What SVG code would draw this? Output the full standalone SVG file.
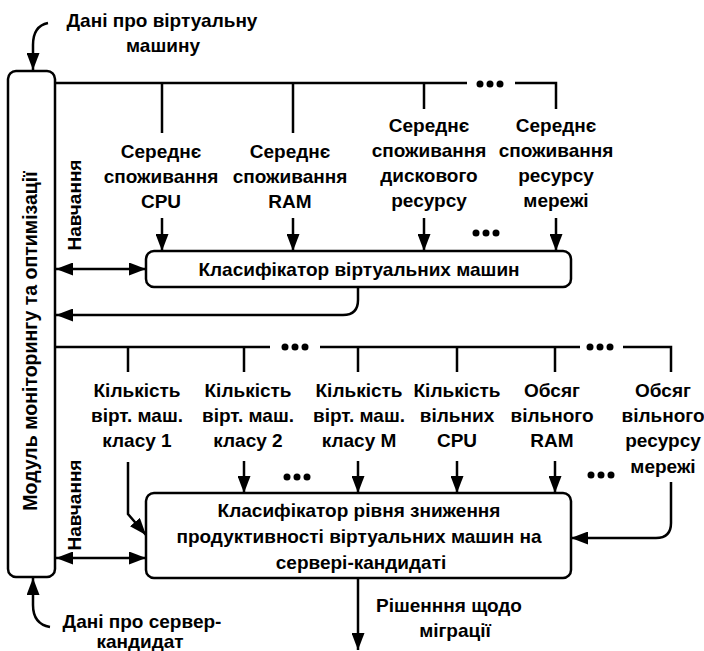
<svg xmlns="http://www.w3.org/2000/svg" width="704" height="651" viewBox="0 0 704 651">
<style>
text{font-family:"Liberation Sans",Arial,sans-serif;font-weight:bold;font-size:19px;fill:#000;text-anchor:middle}
.box{fill:#fff;stroke:#000;stroke-width:2.5}
.ln{fill:none;stroke:#000;stroke-width:2.5}
.ar{marker-end:url(#ah)}
.dar{marker-start:url(#ah);marker-end:url(#ah)}
.dot{fill:#000}
.sm{font-size:19px}
</style>
<defs>
<marker id="ah" viewBox="0 0 17 13" refX="17" refY="6.5" markerWidth="17" markerHeight="13" markerUnits="userSpaceOnUse" orient="auto-start-reverse">
<path d="M0,0 L17,6.5 L0,13 z" fill="#000"/>
</marker>
</defs>
<rect width="704" height="651" fill="#fff"/>

<g id="connectors">
<path class="ln ar" d="M48,23 Q33,26 33,45 V70"/>
<path class="ln ar" d="M50,627 Q33,624 33,605 V578"/>
<path class="ln" d="M55,83 H467 M515,83 H556 V109 M162,83 V133 M293,83 V133 M424,83 V109"/>
<circle class="dot" cx="480" cy="84" r="3.5"/><circle class="dot" cx="490" cy="84" r="3.5"/><circle class="dot" cx="500" cy="84" r="3.5"/>
<path class="ln ar" d="M162,218 V251"/>
<path class="ln ar" d="M293,218 V251"/>
<path class="ln ar" d="M424,218 V251"/>
<path class="ln ar" d="M556,218 V251"/>
<circle class="dot" cx="476" cy="233" r="3.5"/><circle class="dot" cx="486" cy="233" r="3.5"/><circle class="dot" cx="496" cy="233" r="3.5"/>
<path class="ln dar" d="M56,269 H146"/>
<path class="ln ar" d="M358,287 V300 Q358,315 343,315 H56"/>
<path class="ln" d="M55,347 H270 M320,347 H580 M623,347 H671 V372 M128,347 V372 M244,347 V372 M358,347 V372 M457,347 V372 M555,347 V372"/>
<circle class="dot" cx="285" cy="347" r="3.5"/><circle class="dot" cx="295" cy="347" r="3.5"/><circle class="dot" cx="305" cy="347" r="3.5"/>
<circle class="dot" cx="590" cy="347" r="3.5"/><circle class="dot" cx="600" cy="347" r="3.5"/><circle class="dot" cx="610" cy="347" r="3.5"/>
<path class="ln ar" d="M128,462 V514 L146,535"/>
<path class="ln ar" d="M244,461 V493"/>
<path class="ln ar" d="M358,461 V493"/>
<path class="ln ar" d="M457,461 V493"/>
<path class="ln ar" d="M555,461 V493"/>
<circle class="dot" cx="287" cy="477" r="3.5"/><circle class="dot" cx="297" cy="477" r="3.5"/><circle class="dot" cx="307" cy="477" r="3.5"/>
<circle class="dot" cx="591" cy="475" r="3.5"/><circle class="dot" cx="601" cy="475" r="3.5"/><circle class="dot" cx="611" cy="475" r="3.5"/>
<path class="ln ar" d="M671,482 V523 Q671,538 656,538 H571"/>
<path class="ln dar" d="M56,558 H146"/>
<path class="ln ar" d="M358,578 V650"/>
</g>

<g id="module">
<rect class="box" x="8" y="71" width="47" height="506" rx="8"/>
<text transform="translate(37,341) rotate(-90)" style="font-size:19.5px">Модуль моніторингу та оптимізації</text>
</g>

<g id="label-vm-data">
<text x="162" y="27">Дані про віртуальну</text>
<text x="163" y="52">машину</text>
</g>
<g id="label-server-data">
<text x="142" y="628">Дані про сервер-</text>
<text x="140" y="648">кандидат</text>
</g>
<g id="label-learn1"><text class="sm" transform="translate(81,205) rotate(-90)">Навчання</text></g>
<g id="label-learn2"><text class="sm" transform="translate(81,505) rotate(-90)">Навчання</text></g>

<g id="in-cpu"><text x="161" y="158">Середнє</text><text x="161" y="183">споживання</text><text x="161" y="208">CPU</text></g>
<g id="in-ram"><text x="290" y="158">Середнє</text><text x="290" y="183">споживання</text><text x="290" y="208">RAM</text></g>
<g id="in-disk"><text x="429" y="132">Середнє</text><text x="429" y="157">споживання</text><text x="429" y="182">дискового</text><text x="429" y="207">ресурсу</text></g>
<g id="in-net"><text x="556" y="132">Середнє</text><text x="556" y="157">споживання</text><text x="556" y="182">ресурсу</text><text x="556" y="207">мережі</text></g>

<g id="classifier1">
<rect class="box" x="146" y="251" width="425" height="36" rx="8"/>
<text x="359" y="276">Класифікатор віртуальних машин</text>
</g>

<g id="in-c1"><text x="137" y="397">Кількість</text><text x="137" y="422">вірт. маш.</text><text x="137" y="447">класу 1</text></g>
<g id="in-c2"><text x="248" y="397">Кількість</text><text x="248" y="422">вірт. маш.</text><text x="248" y="447">класу 2</text></g>
<g id="in-cm"><text x="359" y="397">Кількість</text><text x="359" y="422">вірт. маш.</text><text x="359" y="447">класу M</text></g>
<g id="in-fcpu"><text x="457" y="397">Кількість</text><text x="457" y="422">вільних</text><text x="457" y="447">CPU</text></g>
<g id="in-fram"><text x="552" y="397">Обсяг</text><text x="552" y="422">вільного</text><text x="552" y="447">RAM</text></g>
<g id="in-fnet"><text x="663" y="397">Обсяг</text><text x="663" y="422">вільного</text><text x="663" y="447">ресурсу</text><text x="663" y="473">мережі</text></g>

<g id="classifier2">
<rect class="box" x="146" y="493" width="425" height="85" rx="8"/>
<text x="359" y="517">Класифікатор рівня зниження</text>
<text x="359" y="543">продуктивності віртуальних машин на</text>
<text x="361" y="569">сервері-кандидаті</text>
</g>

<g id="label-decision">
<text x="449" y="612">Рішенння щодо</text>
<text x="455" y="637">міграції</text>
</g>
</svg>
